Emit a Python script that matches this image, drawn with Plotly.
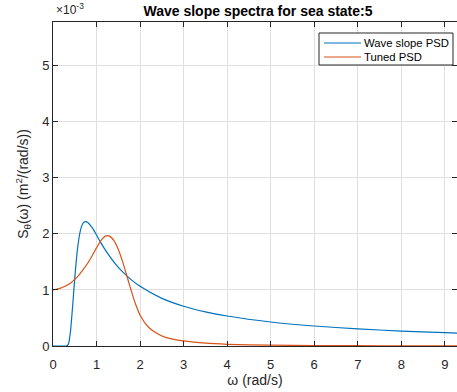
import plotly.graph_objects as go

# Wave slope PSD (values in units of 1e-3 m^2/(rad/s))
omega_wave = [0.0, 0.2, 0.3, 0.33, 0.36, 0.4, 0.45, 0.5, 0.55, 0.6, 0.65, 0.7, 0.75, 0.8,
              0.9, 1.0, 1.1, 1.2, 1.4, 1.6, 1.8, 2.0, 2.5, 3.0, 3.5, 4.0, 5.0, 6.0, 7.0,
              8.0, 9.0, 9.42]
psd_wave = [0.0, 0.0, 0.0, 0.01, 0.05, 0.25, 0.70, 1.21, 1.64, 1.94, 2.12, 2.20, 2.22, 2.205,
            2.11, 1.98, 1.84, 1.716, 1.498, 1.321, 1.18, 1.065, 0.85, 0.71, 0.61, 0.535, 0.428,
            0.357, 0.306, 0.267, 0.238, 0.228]

# Tuned PSD
omega_tuned = [0.0, 0.2, 0.4, 0.5, 0.6, 0.7, 0.8, 0.9, 1.0, 1.1, 1.2, 1.25, 1.3, 1.4, 1.5,
               1.6, 1.7, 1.8, 1.9, 2.0, 2.2, 2.4, 2.6, 2.8, 3.0, 3.5, 4.0, 5.0, 6.0, 7.0,
               8.0, 9.42]
psd_tuned = [1.00, 1.04, 1.12, 1.19, 1.27, 1.37, 1.48, 1.61, 1.75, 1.88, 1.96, 1.97, 1.96,
             1.88, 1.72, 1.50, 1.24, 0.98, 0.74, 0.55, 0.33, 0.22, 0.15, 0.115, 0.09, 0.05,
             0.03, 0.015, 0.008, 0.005, 0.003, 0.002]

series_names = ["Wave slope PSD", "Tuned PSD"]
series_colors = ["#0072BD", "#D95319"]

x_ticks = [0, 1, 2, 3, 4, 5, 6, 7, 8, 9]
y_ticks = [0, 1, 2, 3, 4, 5]

FONT = "Liberation Sans, Arial, Helvetica, sans-serif"
AX = "#262626"
GRID = "#dfdfdf"

W, H = 457, 392
L, R, T, B = 53, 0, 22, 46
PW, PH = W - L - R, H - T - B


def px(xp):
    return (xp - L) / PW


def py(yp):
    return (H - B - yp) / PH


fig = go.Figure()
for xs, ys, nm, col in [(omega_wave, psd_wave, series_names[0], series_colors[0]),
                        (omega_tuned, psd_tuned, series_names[1], series_colors[1])]:
    fig.add_trace(go.Scatter(x=xs, y=ys, mode="lines", name=nm, showlegend=False,
                             line=dict(color=col, width=1.2, shape="spline", smoothing=0.6)))

axis_common = dict(showline=True, linecolor=AX, linewidth=1, mirror="ticks",
                   ticks="inside", ticklen=5, tickcolor=AX, showgrid=True,
                   gridcolor=GRID, gridwidth=1, zeroline=False,
                   tickfont=dict(family=FONT, size=13, color=AX))

fig.update_layout(
    width=W, height=H,
    margin=dict(l=L, r=R, t=T, b=B),
    paper_bgcolor="white", plot_bgcolor="white",
    font=dict(family=FONT, color=AX),
    title=dict(text="<b>Wave slope spectra for sea state:5</b>",
               font=dict(family=FONT, size=14, color="black"),
               x=258 / W, xanchor="center", xref="container",
               y=1 - 11 / H, yanchor="middle", yref="container"),
    xaxis=dict(range=[0, 9.28], tickvals=x_ticks, ticktext=[str(v) for v in x_ticks],
               ticklabelstandoff=6,
               title=dict(text="ω (rad/s)", font=dict(family=FONT, size=14, color=AX),
                          standoff=3),
               **axis_common),
    yaxis=dict(range=[0, 5.78], tickvals=y_ticks, ticktext=[str(v) for v in y_ticks],
               title=dict(text="S<sub>θ</sub>(ω) (m<sup>2</sup>/(rad/s))",
                          font=dict(family=FONT, size=14, color=AX), standoff=10),
               **axis_common),
    showlegend=False,
)

# legend box (drawn manually to match the compact MATLAB legend)
fig.add_shape(type="rect", xref="paper", yref="paper",
              x0=px(319), x1=px(453), y0=py(65), y1=py(33),
              line=dict(color=AX, width=1), fillcolor="white", layer="above")
for i, (nm, col) in enumerate(zip(series_names, series_colors)):
    yrow = 43 + 14 * i
    fig.add_shape(type="line", xref="paper", yref="paper",
                  x0=px(324), x1=px(361), y0=py(yrow), y1=py(yrow),
                  line=dict(color=col, width=1.2), layer="above")
    fig.add_annotation(text=nm, xref="paper", yref="paper", x=px(362), y=py(yrow),
                       xanchor="left", yanchor="middle", showarrow=False,
                       font=dict(family=FONT, size=11.3, color="black"))

fig.add_annotation(text="×10<sup>-3</sup>", xref="paper", yref="paper",
                   x=px(54), y=py(19), xanchor="left", yanchor="bottom", showarrow=False,
                   font=dict(family=FONT, size=12, color=AX))

fig.write_html("out.html")
